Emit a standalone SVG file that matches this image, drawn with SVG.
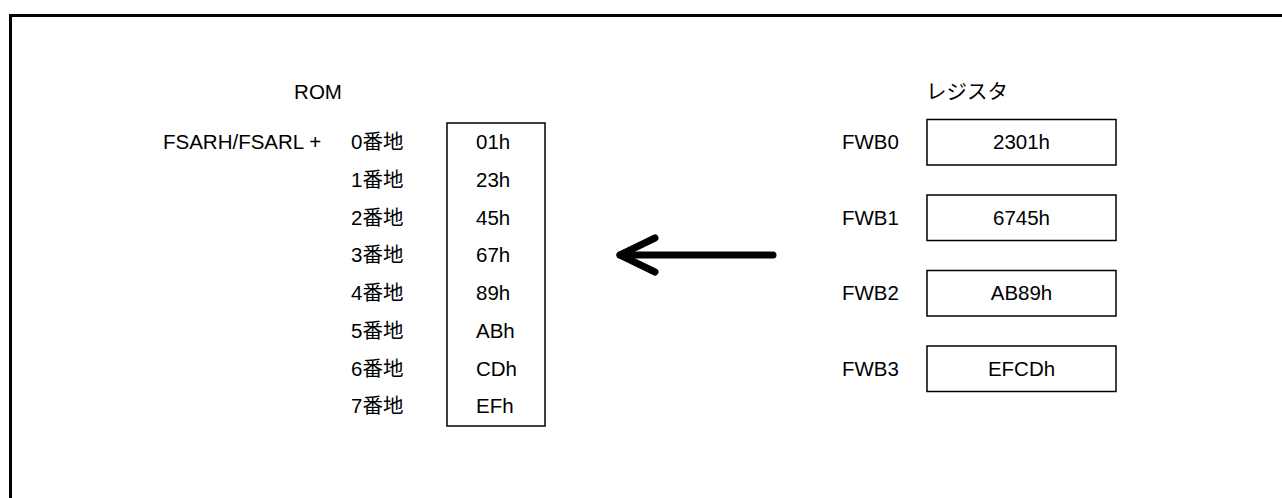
<svg xmlns="http://www.w3.org/2000/svg" width="1282" height="498" viewBox="0 0 1282 498">
<style>
text{font-family:"Liberation Sans","Noto Sans CJK JP",sans-serif;font-size:20.5px;fill:#000}
.box{fill:#fff;stroke:#000;stroke-width:1.5}
.mid{text-anchor:middle}
</style>
<rect width="1282" height="498" fill="#fff"/>
<path d="M10.5,498 V15.5 H1282" fill="none" stroke="#000" stroke-width="3"/>
<g id="rom">
<text x="318" y="99" class="mid">ROM</text>
<text x="163" y="149.3">FSARH/FSARL +</text>
<rect class="box" x="447" y="123" width="98" height="303"/>
<text x="351" y="149.3">0番地</text>
<text x="351" y="187">1番地</text>
<text x="351" y="224.7">2番地</text>
<text x="351" y="262.4">3番地</text>
<text x="351" y="300.1">4番地</text>
<text x="351" y="337.8">5番地</text>
<text x="351" y="375.5">6番地</text>
<text x="351" y="413.2">7番地</text>
<text x="476" y="149.3">01h</text>
<text x="476" y="187">23h</text>
<text x="476" y="224.7">45h</text>
<text x="476" y="262.4">67h</text>
<text x="476" y="300.1">89h</text>
<text x="476" y="337.8">ABh</text>
<text x="476" y="375.5">CDh</text>
<text x="476" y="413.2">EFh</text>
</g>
<g id="registers">
<text x="926" y="99">レジスタ</text>
</g>
<g id="fwb0">
<text x="842" y="149.3">FWB0</text>
<rect class="box" x="927" y="119.5" width="189" height="45.5"/>
<text x="1021.5" y="149.3" class="mid">2301h</text>
</g>
<g id="fwb1">
<text x="842" y="224.7">FWB1</text>
<rect class="box" x="927" y="195" width="189" height="45.5"/>
<text x="1021.5" y="224.7" class="mid">6745h</text>
</g>
<g id="fwb2">
<text x="842" y="300.1">FWB2</text>
<rect class="box" x="927" y="270.5" width="189" height="45.5"/>
<text x="1021.5" y="300.1" class="mid">AB89h</text>
</g>
<g id="fwb3">
<text x="842" y="375.5">FWB3</text>
<rect class="box" x="927" y="346" width="189" height="45.5"/>
<text x="1021.5" y="375.5" class="mid">EFCDh</text>
</g>
<g id="connectors" fill="none" stroke="#000" stroke-width="7" stroke-linecap="round" stroke-linejoin="round">
<path d="M773,255 H620"/>
<path d="M655,238 L620,255 L655,272"/>
</g>
</svg>
